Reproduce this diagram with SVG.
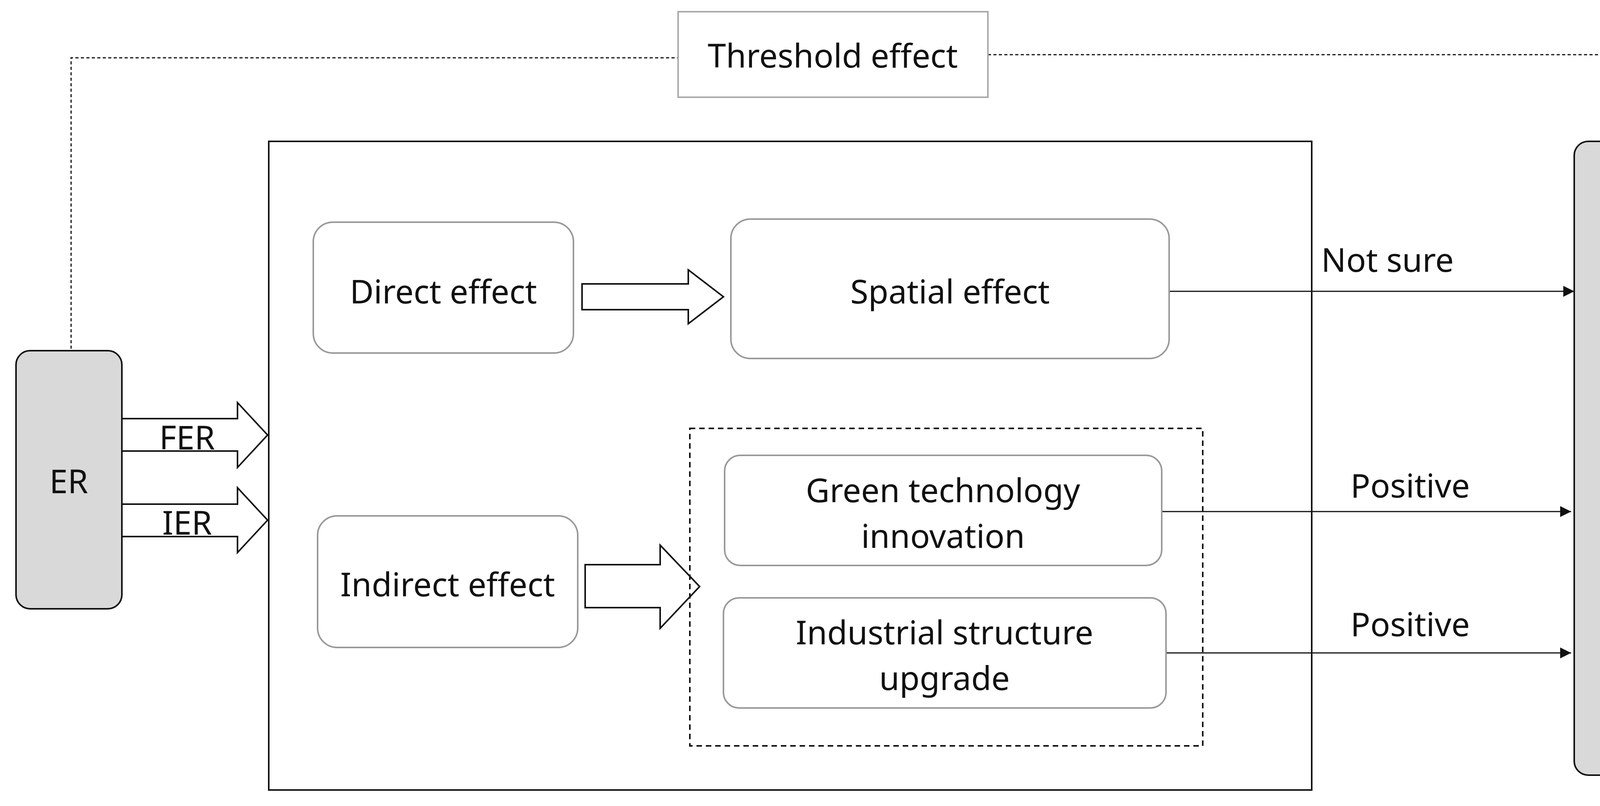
<svg xmlns="http://www.w3.org/2000/svg" width="4334" height="2064" viewBox="0 0 4334 2064">
<defs>
<style>
text{font-family:"Noto Sans","DejaVu Sans",sans-serif;font-size:84px;fill:#111;text-anchor:middle;dominant-baseline:central}
.box{fill:#fff;stroke:#999;stroke-width:4}
.pill{fill:#d9d9d9;stroke:#111;stroke-width:4}
.ln{stroke:#111;stroke-width:3;fill:none}
.hol{fill:#fff;stroke:#111;stroke-width:4;stroke-linejoin:miter}
</style>
<marker id="ah" viewBox="0 0 10 10" refX="10" refY="5" markerWidth="10" markerHeight="10" markerUnits="userSpaceOnUse" orient="auto"><path d="M0,0L10,5L0,10Z" fill="#111"/></marker>
<marker id="ah2" viewBox="0 0 10 10" refX="10" refY="5" markerWidth="28" markerHeight="28" markerUnits="userSpaceOnUse" orient="auto"><path d="M0,0L10,5L0,10Z" fill="#111"/></marker>
</defs>
<rect width="4334" height="2064" fill="#fff"/>
<g id="connectors">
<path class="ln" stroke-dasharray="8,6" d="M182,893V148H1736"/>
<path class="ln" stroke-dasharray="8,6" d="M2529,140H4160V354" marker-end="url(#ah2)"/>
<path class="ln" d="M2993,746H4030" marker-end="url(#ah2)"/>
<path class="ln" d="M2974,1310H4022" marker-end="url(#ah2)"/>
<path class="ln" d="M2985,1672H4022" marker-end="url(#ah2)"/>
<path class="hol" d="M1490,727H1762V691L1852,760L1762,829V793H1490Z"/>
<path class="hol" d="M1498,1446H1690V1396L1791,1502L1690,1609V1556H1498Z"/>
<path class="hol" d="M312,1072H608V1031L685,1114L608,1197V1155H312"/>
<path class="hol" d="M312,1291H608V1249L685,1332L608,1415V1374H312"/>
<text x="479" y="1118">FER</text>
<text x="479" y="1336">IER</text>
<text x="3552" y="663">Not sure</text>
<text x="3610" y="1241">Positive</text>
<text x="3610" y="1596">Positive</text>
</g>
<g id="threshold"><rect x="1736" y="30" width="793" height="219" fill="#fff" stroke="#aaa" stroke-width="4"/><text x="2132" y="140">Threshold effect</text></g>
<g id="main"><rect x="688" y="362" width="2670" height="1661" fill="none" stroke="#111" stroke-width="4"/></g>
<g id="er"><rect class="pill" x="41" y="898" width="271" height="661" rx="36"/><text x="176" y="1230">ER</text></g>
<g id="gie"><rect class="pill" x="4030" y="362" width="268" height="1623" rx="36"/><text x="4163" y="1180">GIE</text></g>
<g id="direct"><rect class="box" x="802" y="569" width="666" height="335" rx="50" stroke="#777"/><text x="1135" y="744">Direct effect</text></g>
<g id="spatial"><rect class="box" x="1871" y="561" width="1122" height="357" rx="50"/><text x="2432" y="744">Spatial effect</text></g>
<g id="indirect"><rect class="box" x="813" y="1321" width="666" height="337" rx="50"/><text x="1146" y="1494">Indirect effect</text></g>
<g id="mediators"><rect x="1766" y="1097" width="1313" height="813" fill="none" stroke="#111" stroke-width="4" stroke-dasharray="14,10"/></g>
<g id="green"><rect class="box" x="1855" y="1166" width="1119" height="282" rx="40"/><text x="2414" y="1253">Green technology</text><text x="2414" y="1370">innovation</text></g>
<g id="industrial"><rect class="box" x="1852" y="1531" width="1133" height="282" rx="40"/><text x="2418" y="1617">Industrial structure</text><text x="2418" y="1734">upgrade</text></g>
</svg>
